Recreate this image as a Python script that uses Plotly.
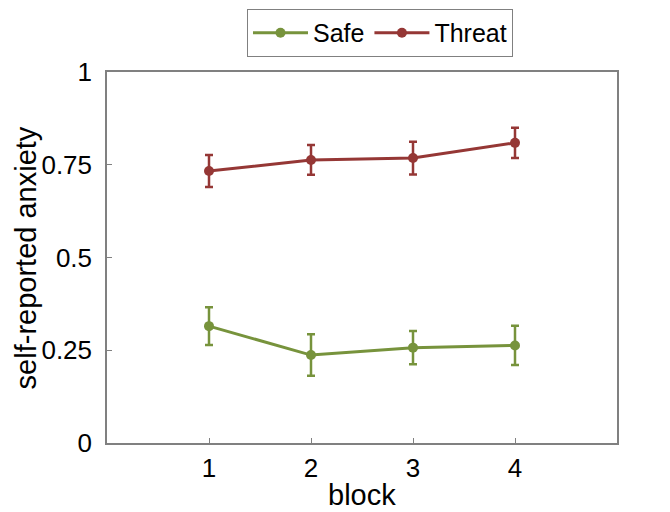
import plotly.graph_objects as go

blocks = [1, 2, 3, 4]
safe_mean = [0.315, 0.237, 0.257, 0.263]
safe_err = [0.051, 0.056, 0.045, 0.053]
threat_mean = [0.733, 0.763, 0.768, 0.809]
threat_err = [0.043, 0.040, 0.044, 0.041]

y_ticks = [0, 0.25, 0.5, 0.75, 1]
y_ticklabels = ["0", "0.25", "0.5", "0.75", "1"]

green = "#77933C"
red = "#953735"

fig = go.Figure()
for name, m, e, c in [("Safe", safe_mean, safe_err, green),
                      ("Threat", threat_mean, threat_err, red)]:
    fig.add_trace(go.Scatter(
        x=blocks, y=m, name=name, mode="lines+markers",
        line=dict(color=c, width=3),
        marker=dict(color=c, size=10),
        error_y=dict(type="data", array=e, visible=True, color=c,
                     thickness=2.5, width=4),
    ))

font = "Liberation Sans, Arial, Helvetica, sans-serif"
# page body has an 8px margin, so the figure is sized to fill the rest of the window
fig.update_layout(
    width=662, height=504,
    margin=dict(l=99, r=53, t=64, b=69, autoexpand=False),
    plot_bgcolor="white", paper_bgcolor="white",
    font=dict(family=font, color="black", size=26),
    showlegend=True,
    legend=dict(orientation="h", x=0.2745, xanchor="left", y=1.17, yanchor="top",
                bordercolor="#808080", borderwidth=1, bgcolor="white",
                font=dict(size=25), itemwidth=55, tracegroupgap=0),
    xaxis=dict(range=[0, 5], tickvals=blocks, ticktext=[str(b) for b in blocks],
               ticks="inside", ticklen=5, tickcolor="#808080", tickwidth=1,
               showline=True, linecolor="#808080", linewidth=1.5, mirror=True,
               showgrid=False, zeroline=False, automargin=False,
               ticklabelstandoff=1,
               tickfont=dict(size=26)),
    yaxis=dict(range=[0, 1], tickvals=y_ticks, ticktext=y_ticklabels,
               ticks="inside", ticklen=5, tickcolor="#808080", tickwidth=1,
               showline=True, linecolor="#808080", linewidth=1.5, mirror=True,
               showgrid=False, zeroline=False, automargin=False,
               ticklabelstandoff=8,
               tickfont=dict(size=26)),
    annotations=[
        dict(text="block", xref="paper", yref="paper", x=0.5, y=-0.189,
             xanchor="center", yanchor="bottom", showarrow=False,
             font=dict(size=29)),
        dict(text="self-reported anxiety", xref="paper", yref="paper",
             x=-0.159, y=0.5, xanchor="center", yanchor="middle",
             textangle=-90, showarrow=False, font=dict(size=29)),
    ],
)

fig.write_html("out.html")
